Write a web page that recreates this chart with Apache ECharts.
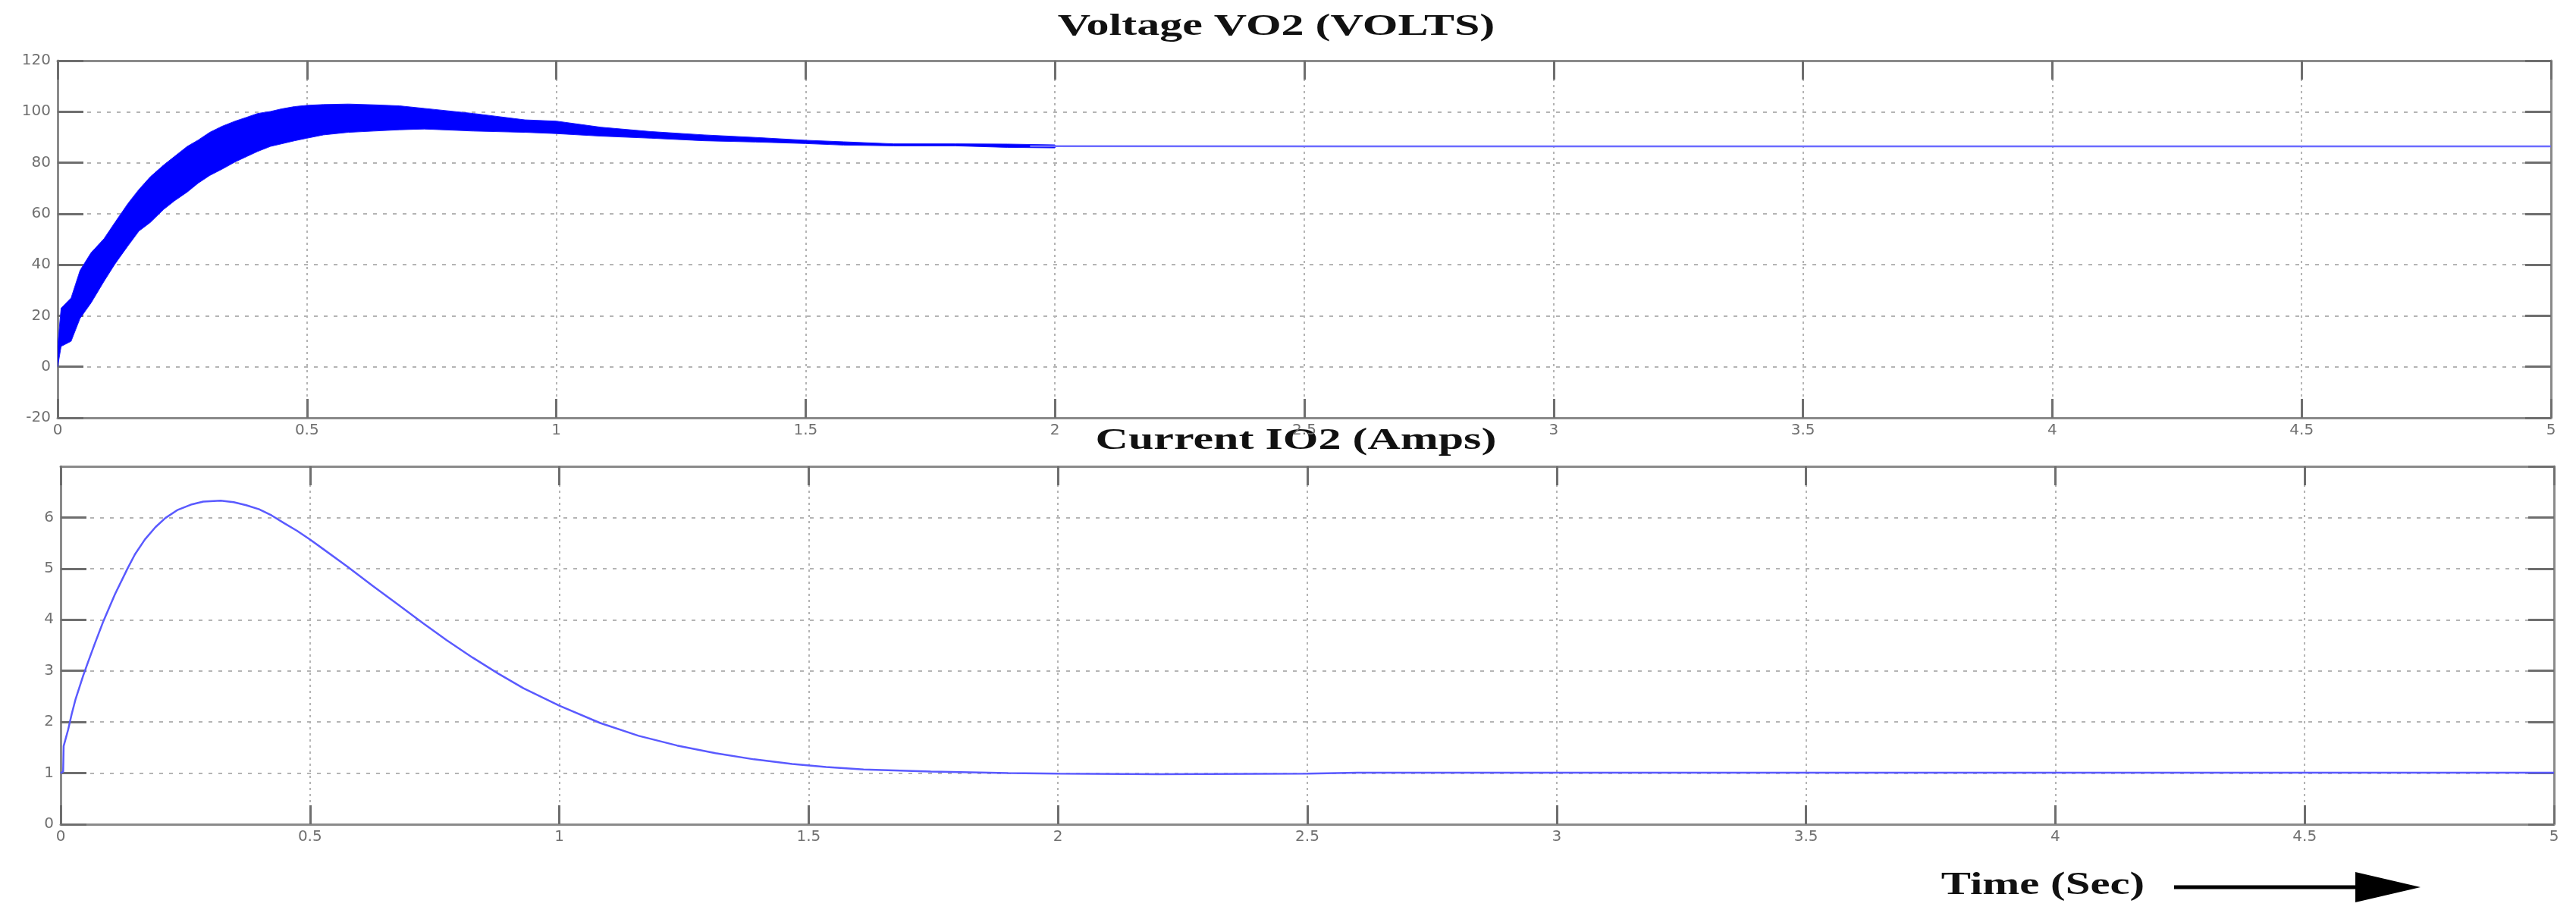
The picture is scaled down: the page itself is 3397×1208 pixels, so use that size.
<!DOCTYPE html>
<html>
<head>
<meta charset="utf-8">
<title>VO2 / IO2</title>
<script src="https://cdn.jsdelivr.net/npm/echarts@6/dist/echarts.min.js"></script>
<style>
  html, body { margin: 0; padding: 0; background: #fff; }
  #chart { width: 3397px; height: 1208px; }
</style>
</head>
<body>
<div id="chart"></div>
<script>
// --- data ---

// output voltage: ripple band (upper / lower envelope) until it settles
const voltTime  = [0, 0.007, 0.027, 0.045, 0.067, 0.093, 0.115, 0.141, 0.163, 0.186, 0.212, 0.234, 0.26, 0.282, 0.305, 0.33, 0.356, 0.379, 0.401, 0.427, 0.449, 0.475, 0.5, 0.533, 0.583, 0.634, 0.685, 0.735, 0.834, 0.937, 1.0, 1.09, 1.19, 1.296, 1.40, 1.5, 1.576, 1.677, 1.80, 1.905, 2.0];
const voltUpper = [8, 23, 27, 37.8, 44.7, 50.2, 56.6, 64, 69.5, 74.5, 79, 82.4, 86.4, 88.9, 91.9, 94.3, 96.3, 97.8, 99.3, 100.1, 101.1, 102, 102.5, 102.8, 103, 102.7, 102.3, 101.3, 99.3, 96.8, 96.3, 93.9, 92.2, 90.9, 89.9, 88.8, 88.2, 87.4, 87.4, 87.3, 87.0];
const voltLower = [0, 8, 10, 19, 25, 33.5, 40.3, 47.4, 53.2, 56.6, 61.6, 65, 68.5, 72, 75, 77.5, 80.3, 82.4, 84.4, 86.4, 87.4, 88.6, 89.6, 90.9, 91.9, 92.4, 92.9, 93.2, 92.4, 91.9, 91.4, 90.4, 89.6, 88.6, 88.1, 87.5, 86.9, 86.6, 86.6, 86.0, 85.8];

// steady voltage after 2 s
const voltTailTime  = [1.95, 2.6, 5.0];
const voltTailValue = [86.5, 86.4, 86.4];

// output current
const currTime  = [0, 0.005, 0.006, 0.015, 0.022, 0.03, 0.045, 0.053, 0.068, 0.086, 0.109, 0.134, 0.149, 0.169, 0.19, 0.21, 0.235, 0.261, 0.286, 0.321, 0.347, 0.372, 0.398, 0.423, 0.448, 0.474, 0.5, 0.524, 0.575, 0.626, 0.676, 0.727, 0.774, 0.826, 0.877, 0.928, 1.0, 1.082, 1.159, 1.236, 1.313, 1.39, 1.467, 1.535, 1.61, 1.745, 1.9, 2.0, 2.2, 2.5, 2.6, 3.0, 4.0, 5.0];
const currValue = [1.0, 1.03, 1.53, 1.85, 2.15, 2.45, 2.9, 3.12, 3.52, 3.98, 4.5, 5.0, 5.28, 5.57, 5.81, 5.99, 6.15, 6.25, 6.31, 6.33, 6.30, 6.24, 6.16, 6.04, 5.89, 5.74, 5.57, 5.40, 5.04, 4.66, 4.30, 3.93, 3.60, 3.26, 2.95, 2.66, 2.32, 1.98, 1.73, 1.54, 1.39, 1.27, 1.18, 1.12, 1.07, 1.03, 1.0, 0.99, 0.98, 0.99, 1.01, 1.01, 1.01, 1.01];

// axis ranges
const timeRange = [0, 5, 0.5];
const voltRange = [-20, 120, 20];
const currRange = [0, 7, 1];

const titles = ['Voltage VO2 (VOLTS)', 'Current IO2 (Amps)'];
const xName = 'Time (Sec)';

// --- style helpers (matlab-ish box with inward ticks) ---
const boxColor = '#8a8a8a';
const tickColor = '#6e6e6e';
const labelFont = { color: '#707070', fontSize: 20, fontFamily: 'DejaVu Sans' };

function timeAxis(gridIndex, position, withLabels) {
  return {
    type: 'value', gridIndex: gridIndex, position: position,
    min: timeRange[0], max: timeRange[1], interval: timeRange[2],
    axisLine: { show: true, onZero: false, lineStyle: { color: boxColor, width: 3 } },
    axisTick: { show: true, inside: true, length: 25, lineStyle: { color: tickColor, width: 3 } },
    axisLabel: Object.assign({ show: withLabels, margin: 7 }, labelFont),
    splitLine: { show: withLabels, lineStyle: { color: '#b4b4b4', width: 2, type: [3, 5] } }
  };
}

function valueAxis(gridIndex, position, range, withLabels) {
  return {
    type: 'value', gridIndex: gridIndex, position: position,
    min: range[0], max: range[1], interval: range[2],
    axisLine: { show: true, onZero: false, lineStyle: { color: boxColor, width: 3 } },
    axisTick: { show: true, inside: true, length: 34, lineStyle: { color: tickColor, width: 3 } },
    axisLabel: Object.assign({ show: withLabels, margin: 9, showMaxLabel: range !== currRange }, labelFont),
    splitLine: { show: withLabels, lineStyle: { color: '#b4b4b4', width: 2, type: [5, 8] } }
  };
}

let myChart = echarts.init(document.getElementById('chart'));

myChart.setOption({
  animation: false,
  backgroundColor: '#ffffff',
  grid: [
    { left: 76, top: 80, width: 3288, height: 471 },
    { left: 80, top: 615, width: 3288, height: 472 }
  ],
  xAxis: [
    timeAxis(0, 'bottom', true),
    timeAxis(0, 'top', false),
    timeAxis(1, 'bottom', true),
    timeAxis(1, 'top', false)
  ],
  yAxis: [
    valueAxis(0, 'left', voltRange, true),
    valueAxis(0, 'right', voltRange, false),
    valueAxis(1, 'left', currRange, true),
    valueAxis(1, 'right', currRange, false)
  ],
  series: [
    {
      // ripple band of VO2, filled between the two envelopes
      type: 'custom',
      xAxisIndex: 0, yAxisIndex: 0,
      clip: true,
      data: voltTime.map((t, i) => [t, voltUpper[i], voltLower[i]]),
      encode: { x: 0, y: [1, 2] },
      renderItem: function (params, api) {
        if (params.dataIndex !== 0) return null;
        const top = voltTime.map((t, i) => api.coord([t, voltUpper[i]]));
        const bottom = voltTime.map((t, i) => api.coord([t, voltLower[i]])).reverse();
        return {
          type: 'polygon',
          shape: { points: top.concat(bottom) },
          style: { fill: '#0000ff', stroke: '#1a1aff', lineWidth: 1 }
        };
      }
    },
    {
      type: 'line',
      xAxisIndex: 0, yAxisIndex: 0,
      data: voltTailTime.map((t, i) => [t, voltTailValue[i]]),
      showSymbol: false,
      lineStyle: { color: '#6b6bff', width: 2.5 }
    },
    {
      type: 'line',
      xAxisIndex: 2, yAxisIndex: 2,
      data: currTime.map((t, i) => [t, currValue[i]]),
      showSymbol: false,
      lineStyle: { color: '#5a5aff', width: 2.5 }
    }
  ],
  graphic: [
    {
      type: 'text', x: 1683, y: 36, scaleX: 1.5,
      style: { text: titles[0], fontFamily: 'Liberation Serif', fontWeight: 'bold', fontSize: 40, fill: '#111', align: 'center', verticalAlign: 'middle' }
    },
    {
      type: 'text', x: 1709, y: 582, scaleX: 1.5,
      style: { text: titles[1], fontFamily: 'Liberation Serif', fontWeight: 'bold', fontSize: 40, fill: '#111', align: 'center', verticalAlign: 'middle' }
    },
    {
      type: 'text', x: 2694, y: 1168, scaleX: 1.4,
      style: { text: xName, fontFamily: 'Liberation Serif', fontWeight: 'bold', fontSize: 42, fill: '#111', align: 'center', verticalAlign: 'middle' }
    },
    // arrow after the axis name
    {
      type: 'line',
      shape: { x1: 2867, y1: 1170, x2: 3112, y2: 1170 },
      style: { stroke: '#000', lineWidth: 5 }
    },
    {
      type: 'polygon',
      shape: { points: [[3106, 1150], [3106, 1190], [3192, 1170]] },
      style: { fill: '#000' }
    }
  ]
});
</script>
</body>
</html>
